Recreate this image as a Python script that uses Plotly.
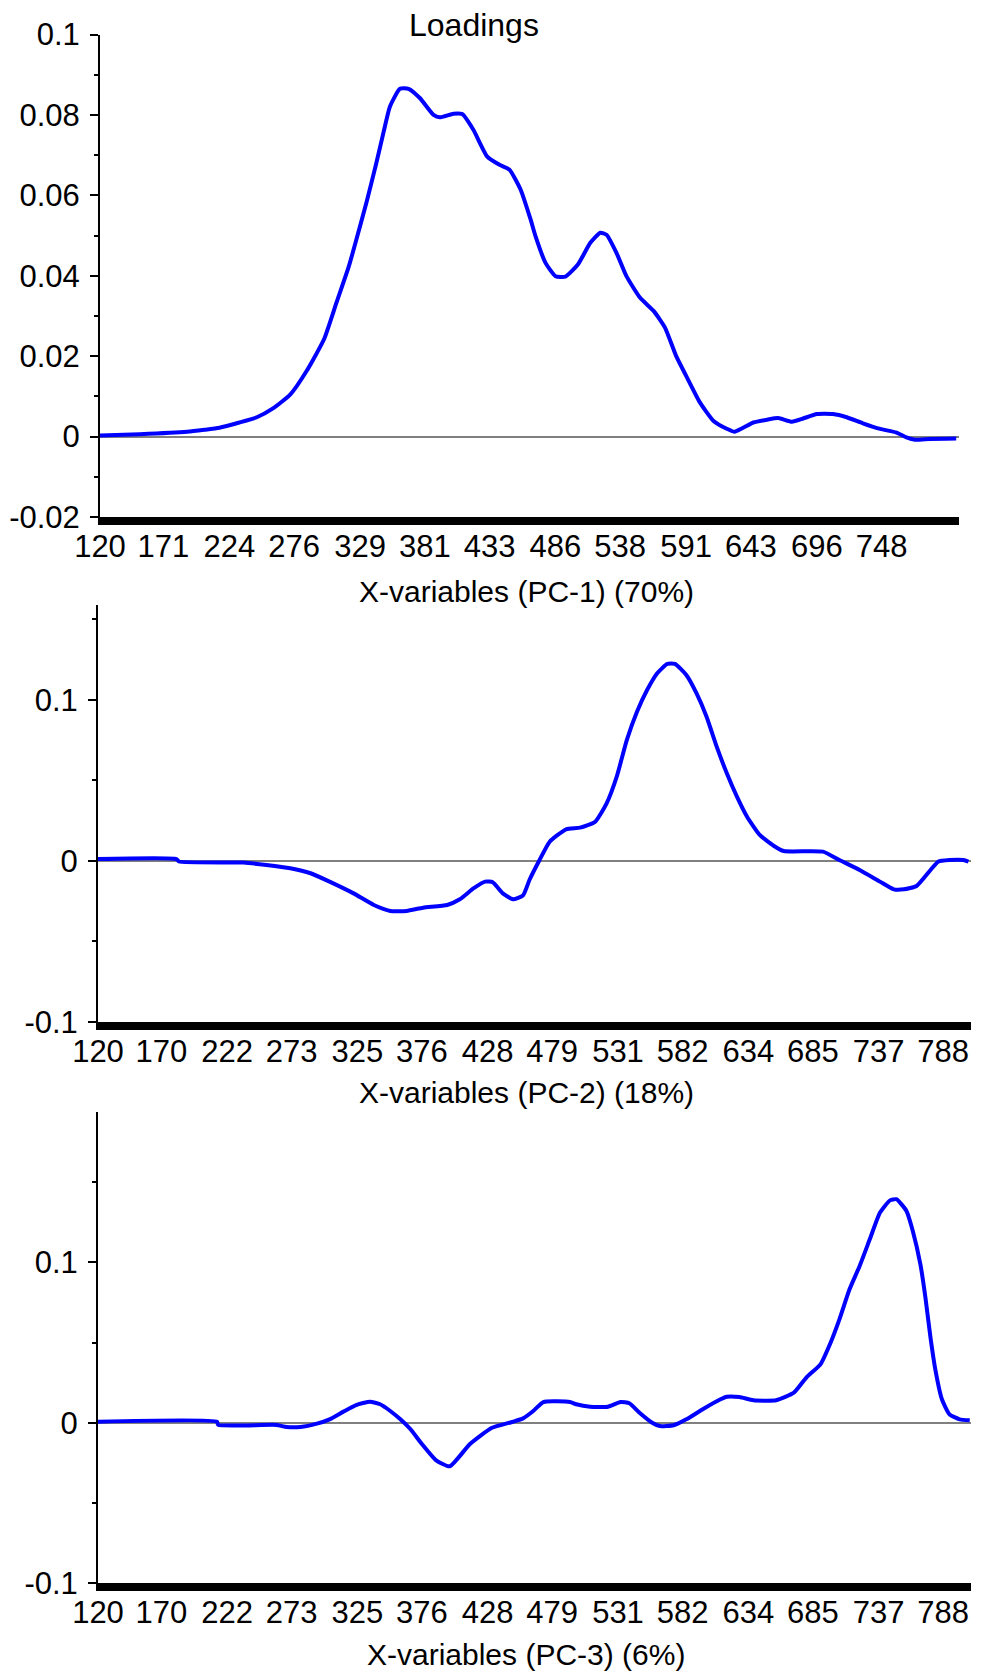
import plotly.graph_objects as go

# ---- data -------------------------------------------------------------
# PC-1 loadings
pc1_x = [120, 152, 190, 204, 216, 232, 246, 259, 273, 286, 300, 310, 320, 326, 334,
         342, 348, 353, 361, 368, 377, 388, 393, 404, 411, 420, 431, 441, 449, 458,
         466, 470, 478, 486, 494, 504, 514, 522, 527, 535, 543, 554, 565, 574, 583,
         591, 602, 613, 624, 630, 645, 656, 665, 676, 685, 696, 709, 720, 733, 747,
         760, 768, 775, 787, 808]
pc1_y = [0.0003, 0.0006, 0.0012, 0.0017, 0.0022, 0.0035, 0.0048, 0.0070, 0.0105, 0.0163,
         0.0242, 0.0333, 0.0424, 0.0490, 0.0581, 0.0680, 0.0759, 0.0821, 0.0865, 0.0865,
         0.0842, 0.0800, 0.0794, 0.0803, 0.0802, 0.0763, 0.0697, 0.0676, 0.0664, 0.0614,
         0.0540, 0.0498, 0.0432, 0.0399, 0.0398, 0.0428, 0.0482, 0.0507, 0.0502, 0.0457,
         0.0399, 0.0345, 0.0312, 0.0271, 0.0200, 0.0151, 0.0085, 0.0039, 0.0019, 0.0012,
         0.0035, 0.0042, 0.0046, 0.0037, 0.0045, 0.0056, 0.0056, 0.0048, 0.0033, 0.0019,
         0.0010, -0.0002, -0.0008, -0.0006, -0.0005]

# PC-2 loadings
pc2_x = [120, 182, 184, 235, 253, 272, 288, 303, 322, 338, 351, 364, 377, 396, 406,
         417, 426, 432, 440, 448, 456, 461, 469, 477, 490, 501, 513, 522, 530, 538,
         546, 554, 562, 570, 576, 585, 593, 601, 609, 617, 625, 633, 643, 654, 662,
         693, 706, 722, 738, 749, 757, 767, 778, 784, 793, 804, 808]
pc2_y = [0.0010, 0.0010, -0.0005, -0.0012, -0.0027, -0.0047, -0.0078, -0.0130, -0.0203, -0.0275,
         -0.0312, -0.0312, -0.0292, -0.0275, -0.0240, -0.0171, -0.0130, -0.0134, -0.0203, -0.0240,
         -0.0215, -0.0120, 0.0004, 0.0118, 0.0195, 0.0205, 0.0242, 0.0356, 0.0522, 0.0750,
         0.0925, 0.1060, 0.1164, 0.1222, 0.1222, 0.1153, 0.1040, 0.0894, 0.0708, 0.0543,
         0.0398, 0.0273, 0.0160, 0.0093, 0.0060, 0.0056, 0.0004, -0.0058, -0.0130, -0.0178,
         -0.0178, -0.0157, -0.0058, -0.0006, 0.0004, 0.0004, -0.0006]

# PC-3 loadings
pc3_x = [120, 214, 215, 261, 269, 280, 293, 303, 314, 324, 335, 343, 351, 359, 367,
         376, 387, 398, 414, 431, 448, 456, 464, 472, 493, 498, 509, 523, 533, 540,
         548, 558, 564, 575, 585, 598, 612, 617, 627, 638, 656, 670, 680, 691, 699,
         706, 714, 722, 730, 738, 746, 751, 759, 764, 770, 774, 778, 782, 787, 793,
         801, 809]
pc3_y = [0.0006, 0.0006, -0.0014, -0.0014, -0.0027, -0.0027, -0.0006, 0.0021, 0.0069, 0.0110,
         0.0131, 0.0115, 0.0073, 0.0021, -0.0041, -0.0133, -0.0233, -0.0272, -0.0133, -0.0033,
         0.0006, 0.0027, 0.0073, 0.0129, 0.0129, 0.0115, 0.0100, 0.0100, 0.0129, 0.0121,
         0.0062, 0.0000, -0.0021, -0.0016, 0.0021, 0.0084, 0.0146, 0.0162, 0.0160, 0.0140,
         0.0140, 0.0187, 0.0283, 0.0364, 0.0499, 0.0645, 0.0832, 0.0978, 0.1144, 0.1310,
         0.1387, 0.1394, 0.1321, 0.1196, 0.0988, 0.0780, 0.0530, 0.0323, 0.0146, 0.0052,
         0.0021, 0.0015]

# tick labels
pc1_xticks = [120, 171, 224, 276, 329, 381, 433, 486, 538, 591, 643, 696, 748]
pc23_xticks = [120, 170, 222, 273, 325, 376, 428, 479, 531, 582, 634, 685, 737, 788]
pc1_yticks = [-0.02, 0, 0.02, 0.04, 0.06, 0.08, 0.1]
pc1_ytext = ["-0.02", "0", "0.02", "0.04", "0.06", "0.08", "0.1"]
pc23_yticks = [-0.1, 0, 0.1]
pc23_ytext = ["-0.1", "0", "0.1"]

titles = ["X-variables (PC-1) (70%)", "X-variables (PC-2) (18%)", "X-variables (PC-3) (6%)"]

# ---- figure -----------------------------------------------------------
W, H = 989, 1677
FONT = "Liberation Sans, Arial, sans-serif"
BLUE = "#0000FF"
TICK_SIZE = 31

def px(v):
    return v / W

def py(v):
    return 1 - v / H

fig = go.Figure()
series = [(pc1_x, pc1_y), (pc2_x, pc2_y), (pc3_x, pc3_y)]
for i, (xs, ys) in enumerate(series, start=1):
    fig.add_trace(go.Scatter(x=xs, y=ys, mode="lines",
                             line=dict(color=BLUE, width=4, shape="spline", smoothing=0.5),
                             xaxis=f"x{i}", yaxis=f"y{i}", showlegend=False))

# pixel frames of the three panels: (left, right, top, bottom)
frames = [(100, 958.7, 34.5, 517), (98, 971, 605, 1021.7), (98, 971, 1111.7, 1583)]
yranges = [[-0.02, 0.1], [-0.1, 0.1588], [-0.1, 0.194]]
ydticks = [0.01, 0.05, 0.05]
xticks = [pc1_xticks, pc23_xticks, pc23_xticks]
yticks = [(pc1_yticks, pc1_ytext), (pc23_yticks, pc23_ytext), (pc23_yticks, pc23_ytext)]

layout = dict(
    width=W, height=H, margin=dict(l=0, r=0, t=0, b=0, autoexpand=False),
    paper_bgcolor="white", plot_bgcolor="white",
    font=dict(family=FONT, size=TICK_SIZE, color="black"),
)
for i in range(3):
    l, r, t, b = frames[i]
    sfx = "" if i == 0 else str(i + 1)
    layout["xaxis" + sfx] = dict(
        domain=[px(l), px(r)], range=[120, 810], anchor="y" + sfx,
        showline=True, linecolor="black", linewidth=8, ticks="",
        tickvals=xticks[i], ticktext=[str(v) for v in xticks[i]],
        showgrid=False, zeroline=False, ticklabelstandoff=-5, automargin=False,
        tickfont=dict(family=FONT, size=TICK_SIZE, color="black"),
    )
    layout["yaxis" + sfx] = dict(
        domain=[py(b), py(t)], range=yranges[i], anchor="x" + sfx,
        showline=True, linecolor="black", linewidth=2,
        ticks="outside", ticklen=8, tickwidth=2, tickcolor="black",
        tickvals=yticks[i][0], ticktext=yticks[i][1],
        minor=dict(ticks="outside", ticklen=4, tickwidth=2, tickcolor="black",
                   dtick=ydticks[i], tick0=0),
        showgrid=False, zeroline=True, zerolinecolor="#808080", zerolinewidth=2,
        tickfont=dict(family=FONT, size=TICK_SIZE, color="black"),
        ticklabelstandoff=4, automargin=False,
    )

annotations = [dict(text="Loadings", x=px(474), y=py(25), xref="paper", yref="paper",
                    xanchor="center", yanchor="middle", showarrow=False,
                    font=dict(family=FONT, size=32, color="black"))]
for title, yc in zip(titles, [591, 1092, 1654]):
    annotations.append(dict(text=title, x=px(526), y=py(yc), xref="paper", yref="paper",
                            xanchor="center", yanchor="middle", showarrow=False,
                            font=dict(family=FONT, size=30, color="black")))
layout["annotations"] = annotations

fig.update_layout(**layout)
fig.write_html("out.html")
